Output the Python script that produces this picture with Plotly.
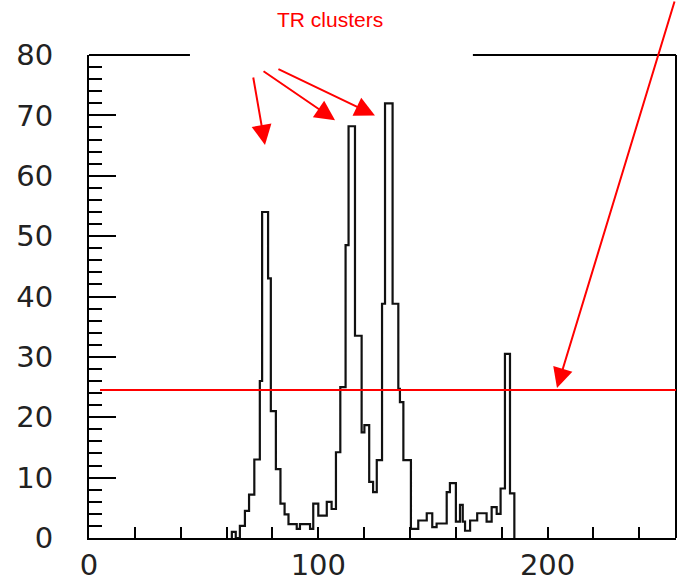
import plotly.graph_objects as go

# Histogram: left edge of each step and its height
bin_left = [62.3, 64.0, 65.8, 68.0, 69.8, 72.1, 74.5, 75.5, 78.1, 79.3,
            81.5, 83.5, 85.3, 87.0, 90.6, 92.0, 96.4, 97.8, 100.0, 103.7,
            105.8, 107.7, 109.6, 111.9, 113.2, 116.0, 118.9, 120.1, 122.2, 123.9,
            125.5, 127.8, 129.1, 132.4, 134.9, 135.6, 137.1, 140.4, 143.6, 147.3,
            149.7, 151.6, 156.0, 157.4, 160.0, 161.8, 163.0, 164.0, 166.2, 169.3,
            173.4, 175.6, 177.8, 179.5, 181.4, 183.6]
counts = [1, 0, 2, 4.5, 7.2, 13, 26, 54, 43, 21,
          11.4, 5.7, 3.9, 2.3, 1.5, 2.3, 1.5, 5.7, 3.7, 6,
          4.8, 14.2, 25, 48.5, 68.2, 33.5, 17.5, 18.7, 9.3, 7.6,
          12.9, 38.8, 72, 38.8, 24.7, 22.5, 12.9, 1.5, 2.9, 4.1,
          1.8, 2.4, 7.6, 9.1, 2.7, 5.5, 2.7, 1.2, 2.9, 4.1,
          2.7, 5.1, 4.0, 8.2, 30.5, 7.4]
last_edge = 185.5

threshold = 24.5
x_tick_labels = [0, 100, 200]

xs = [bin_left[0]] + bin_left + [last_edge]
ys = [0] + counts + [0]

fig = go.Figure()
fig.add_trace(go.Scatter(x=xs, y=ys, mode="lines", line_shape="hv",
                         line=dict(color="#111111", width=2.2), showlegend=False,
                         hoverinfo="skip"))

tick_font = dict(family="DejaVu Sans", size=29, color="#222222")

fig.update_layout(
    width=682, height=576, autosize=False,
    margin=dict(l=89, r=6, t=55, b=38, autoexpand=False),
    paper_bgcolor="white", plot_bgcolor="white",
    showlegend=False,
    xaxis=dict(range=[0, 256], showgrid=False, zeroline=False, automargin=False,
               showline=True, linecolor="black", linewidth=2,
               tickmode="array", tickvals=x_tick_labels,
               ticktext=[str(v) for v in x_tick_labels],
               ticks="inside", ticklen=11, tickwidth=1.5, tickcolor="black",
               minor=dict(dtick=20, ticks="inside", ticklen=11, tickwidth=1.5,
                          tickcolor="black"),
               tickfont=tick_font, ticklabelstandoff=0),
    yaxis=dict(range=[0, 80], showgrid=False, zeroline=False, automargin=False,
               showline=True, linecolor="black", linewidth=2,
               dtick=10, ticks="inside", ticklen=27, tickwidth=1.5, tickcolor="black",
               minor=dict(dtick=2, ticks="inside", ticklen=13, tickwidth=1.5,
                          tickcolor="black"),
               tickfont=tick_font, ticklabelstandoff=28),
)

# partial top frame and right frame
fig.add_shape(type="line", xref="paper", yref="paper", x0=0, x1=0.172, y0=1, y1=1,
              line=dict(color="black", width=2))
fig.add_shape(type="line", xref="paper", yref="paper", x0=0.654, x1=1, y0=1, y1=1,
              line=dict(color="black", width=2))
fig.add_shape(type="line", xref="paper", yref="paper", x0=1, x1=1, y0=0, y1=1,
              line=dict(color="black", width=2))

# red threshold line
fig.add_shape(type="line", xref="x", yref="y", x0=4.8, x1=256, y0=threshold, y1=threshold,
              line=dict(color="red", width=2))

fig.add_annotation(text="TR clusters", xref="paper", yref="paper", x=0.4106, y=1.0745,
                   xanchor="center", yanchor="middle",
                   showarrow=False, font=dict(family="Liberation Sans", size=21, color="red"))

arrows = [
    (76.75, 65.1, -12, -69),
    (107.3, 69.2, -73, -50),
    (124.7, 70.0, -98, -47),
    (204.1, 24.85, 118, -395),
]
for (ax_x, ax_y, dx, dy) in arrows:
    fig.add_annotation(x=ax_x, y=ax_y, xref="x", yref="y", text="",
                       showarrow=True, ax=dx, ay=dy, axref="pixel", ayref="pixel",
                       arrowhead=2, arrowsize=2.0, arrowwidth=2, arrowcolor="red",
                       standoff=0)

fig.write_html("out.html")
